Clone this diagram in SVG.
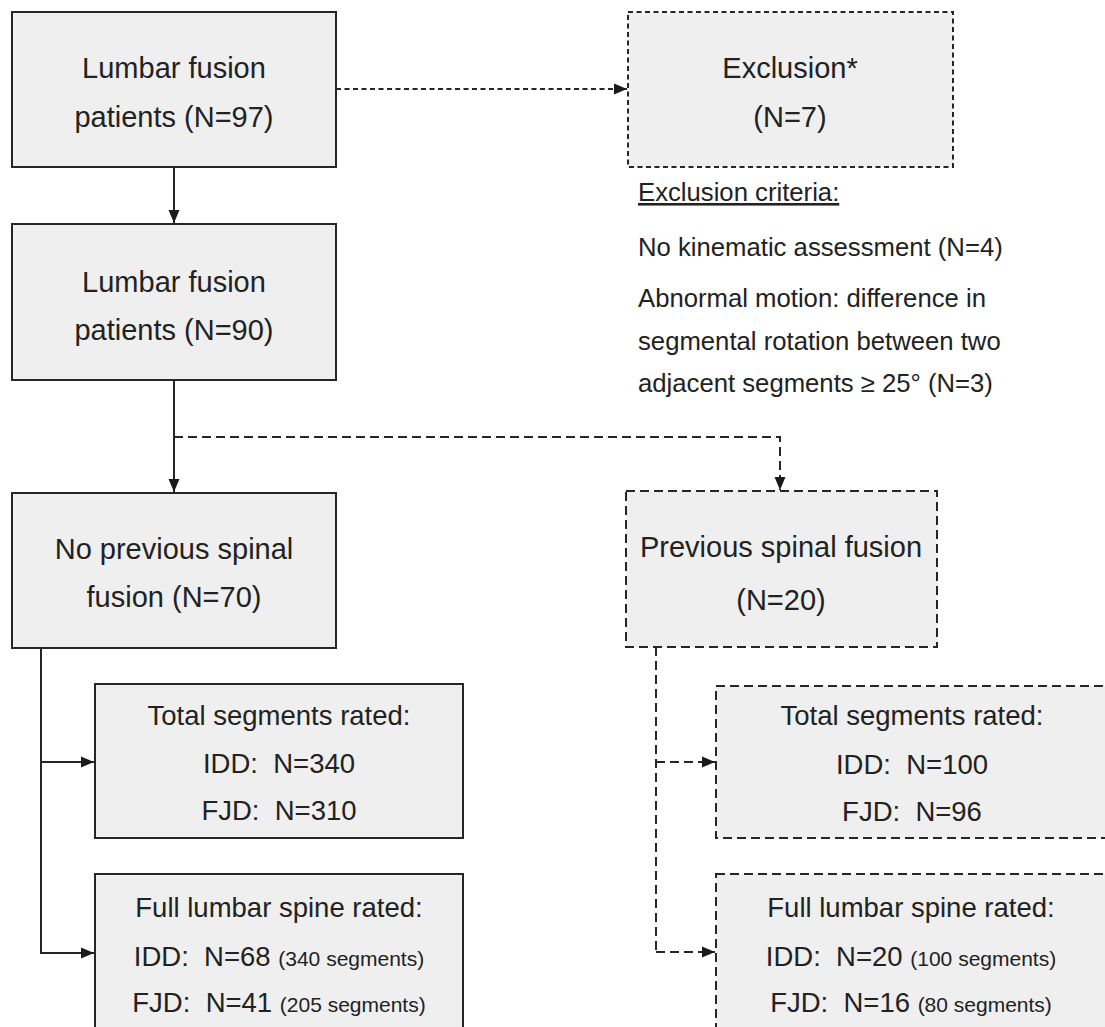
<svg xmlns="http://www.w3.org/2000/svg" width="1105" height="1027" viewBox="0 0 1105 1027">
<style>
  .box { fill: #efefef; stroke: #262626; stroke-width: 2; }
  .dbox { fill: #efefef; stroke: #262626; stroke-width: 2; stroke-dasharray: 9 5; }
  .t { font-family: "Liberation Sans", Arial, sans-serif; fill: #222; text-anchor: middle; }
  .big { font-size: 29px; }
  .mid { font-size: 27.5px; }
  .sm { font-size: 21px; }
  .crit { font-family: "Liberation Sans", Arial, sans-serif; fill: #222; font-size: 25.7px; }
  .ln { fill: none; stroke: #262626; stroke-width: 2; }
  .dl { fill: none; stroke: #262626; stroke-width: 2; stroke-dasharray: 9 5; }
  .dl2 { fill: none; stroke: #262626; stroke-width: 1.8; stroke-dasharray: 5 3.5; }
</style>
<defs>
  <marker id="ah" markerWidth="14" markerHeight="14" refX="13" refY="7" orient="auto" markerUnits="userSpaceOnUse">
    <path d="M0,1.5 L13,7 L0,12.5 Z" fill="#1a1a1a"/>
  </marker>
</defs>
<rect width="1105" height="1027" fill="#ffffff"/>

<g id="connectors">
  <line class="ln" x1="174" y1="167" x2="174" y2="223" marker-end="url(#ah)"/>
  <line class="dl2" x1="336" y1="89" x2="627" y2="89" marker-end="url(#ah)"/>
  <line class="ln" x1="174" y1="380" x2="174" y2="492" marker-end="url(#ah)"/>
  <polyline class="dl" points="174,437 780,437 780,490" marker-end="url(#ah)"/>
  <line class="ln" x1="41" y1="648" x2="41" y2="954"/>
  <line class="ln" x1="40" y1="762" x2="94" y2="762" marker-end="url(#ah)"/>
  <line class="ln" x1="40" y1="953" x2="94" y2="953" marker-end="url(#ah)"/>
  <line class="dl" x1="656" y1="647" x2="656" y2="952"/>
  <line class="dl" x1="656" y1="762" x2="715" y2="762" marker-end="url(#ah)"/>
  <line class="dl" x1="656" y1="952" x2="715" y2="952" marker-end="url(#ah)"/>
</g>

<g id="n1">
  <rect class="box" x="12" y="12" width="324" height="155"/>
  <text class="t big" x="174" y="78">Lumbar fusion</text>
  <text class="t big" x="174" y="127">patients (N=97)</text>
</g>

<g id="exclusion">
  <rect class="dbox" x="628" y="12" width="325" height="155" style="stroke-dasharray:5 3.5"/>
  <text class="t big" x="790" y="78">Exclusion*</text>
  <text class="t big" x="790" y="127">(N=7)</text>
</g>

<g id="criteria">
  <text class="crit" x="638" y="201" text-decoration="underline">Exclusion criteria:</text>
  <text class="crit" x="638" y="256">No kinematic assessment (N=4)</text>
  <text class="crit" x="638" y="307">Abnormal motion: difference in</text>
  <text class="crit" x="638" y="350">segmental rotation between two</text>
  <text class="crit" x="638" y="392">adjacent segments ≥ 25° (N=3)</text>
</g>

<g id="n2">
  <rect class="box" x="12" y="224" width="324" height="156"/>
  <text class="t big" x="174" y="292">Lumbar fusion</text>
  <text class="t big" x="174" y="340">patients (N=90)</text>
</g>

<g id="n3">
  <rect class="box" x="12" y="493" width="324" height="155"/>
  <text class="t big" x="174" y="559">No previous spinal</text>
  <text class="t big" x="174" y="607">fusion (N=70)</text>
</g>

<g id="n4">
  <rect class="dbox" x="626" y="491" width="311" height="156"/>
  <text class="t big" x="781" y="557">Previous spinal fusion</text>
  <text class="t big" x="781" y="610">(N=20)</text>
</g>

<g id="n5">
  <rect class="box" x="95" y="684" width="368" height="154"/>
  <text class="t mid" x="279" y="725">Total segments rated:</text>
  <text class="t mid" x="279" y="773">IDD:&#160; N=340</text>
  <text class="t mid" x="279" y="820">FJD:&#160; N=310</text>
</g>

<g id="n6">
  <rect class="box" x="95" y="874" width="368" height="175"/>
  <text class="t mid" x="279" y="917">Full lumbar spine rated:</text>
  <text class="t mid" x="279" y="966">IDD:&#160; N=68 <tspan class="sm">(340 segments)</tspan></text>
  <text class="t mid" x="279" y="1012">FJD:&#160; N=41 <tspan class="sm">(205 segments)</tspan></text>
</g>

<g id="n7">
  <rect class="dbox" x="716" y="686" width="394" height="152"/>
  <text class="t mid" x="912" y="725">Total segments rated:</text>
  <text class="t mid" x="912" y="774">IDD:&#160; N=100</text>
  <text class="t mid" x="912" y="821">FJD:&#160; N=96</text>
</g>

<g id="n8">
  <rect class="dbox" x="716" y="874" width="394" height="175"/>
  <text class="t mid" x="911" y="917">Full lumbar spine rated:</text>
  <text class="t mid" x="911" y="966">IDD:&#160; N=20 <tspan class="sm">(100 segments)</tspan></text>
  <text class="t mid" x="911" y="1012">FJD:&#160; N=16 <tspan class="sm">(80 segments)</tspan></text>
</g>
</svg>
